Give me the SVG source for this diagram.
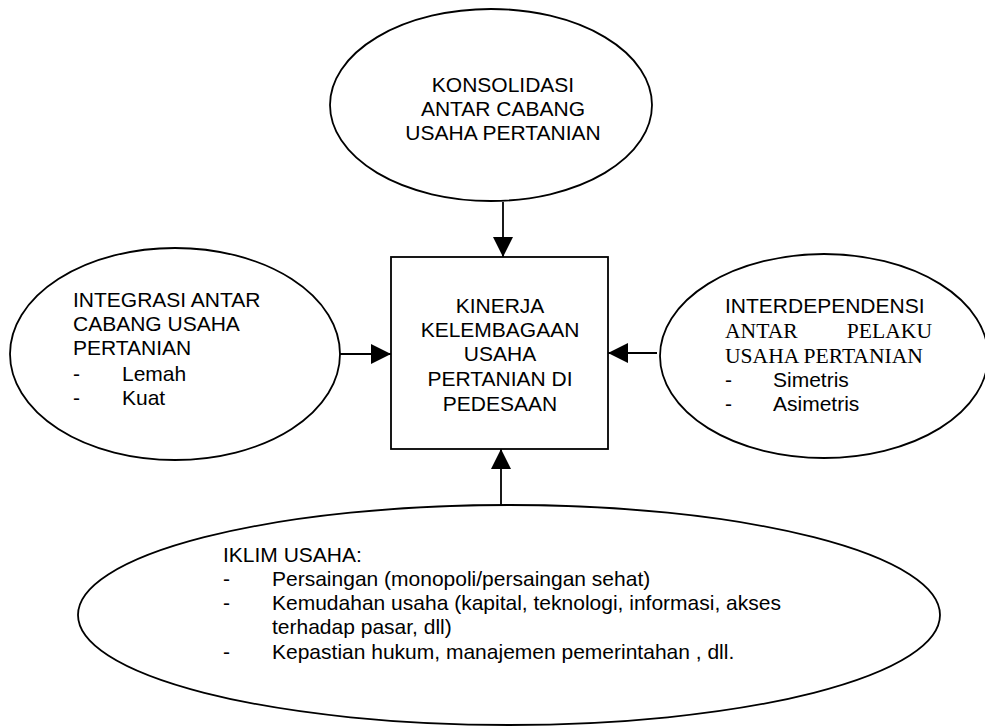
<svg xmlns="http://www.w3.org/2000/svg" width="985" height="727" viewBox="0 0 985 727">
<style>
.shape{fill:#fff;stroke:#000;stroke-width:1.8}
.t{font-family:"Liberation Sans",Arial,sans-serif;font-size:21px;fill:#000}
.s{font-family:"Liberation Serif","Times New Roman",serif;font-size:21.6px;fill:#000}
.c{text-anchor:middle}
.line{stroke:#000;stroke-width:1.8;fill:none}
</style>
<defs>
<marker id="ah" viewBox="0 0 20 20" refX="20" refY="10" markerWidth="20" markerHeight="20" markerUnits="userSpaceOnUse" orient="auto">
<path d="M0,0 L20,10 L0,20 Z" fill="#000"/>
</marker>
</defs>
<rect width="985" height="727" fill="#fff"/>
<g id="connectors">
<line class="line" x1="503" y1="202" x2="503" y2="257" marker-end="url(#ah)"/>
<line class="line" x1="333" y1="354" x2="391" y2="354" marker-end="url(#ah)"/>
<line class="line" x1="657" y1="353" x2="608" y2="353" marker-end="url(#ah)"/>
<line class="line" x1="501" y1="505" x2="501" y2="449" marker-end="url(#ah)"/>
</g>
<g id="node-konsolidasi">
<ellipse class="shape" cx="491" cy="105" rx="161" ry="96"/>
<text class="t c" x="503" y="92">KONSOLIDASI</text>
<text class="t c" x="503" y="116">ANTAR CABANG</text>
<text class="t c" x="503" y="140">USAHA PERTANIAN</text>
</g>
<g id="node-kinerja">
<rect class="shape" x="391" y="257" width="217" height="192"/>
<text class="t c" x="500" y="313">KINERJA</text>
<text class="t c" x="500" y="337">KELEMBAGAAN</text>
<text class="t c" x="500" y="361">USAHA</text>
<text class="t c" x="500" y="386">PERTANIAN DI</text>
<text class="t c" x="500" y="411">PEDESAAN</text>
</g>
<g id="node-integrasi">
<ellipse class="shape" cx="175" cy="354" rx="165" ry="106"/>
<text class="t" x="73" y="307">INTEGRASI ANTAR</text>
<text class="t" x="73" y="331">CABANG USAHA</text>
<text class="t" x="73" y="355">PERTANIAN</text>
<text class="t" x="73" y="381">-</text>
<text class="t" x="122" y="381">Lemah</text>
<text class="t" x="73" y="405">-</text>
<text class="t" x="122" y="405">Kuat</text>
</g>
<g id="node-interdependensi">
<ellipse class="shape" cx="824" cy="356" rx="164" ry="102"/>
<text class="t" x="725" y="313">INTERDEPENDENSI</text>
<text class="s" x="725" y="338">ANTAR</text>
<text class="s" x="932" y="338" text-anchor="end">PELAKU</text>
<text class="s" x="725" y="363">USAHA PERTANIAN</text>
<text class="t" x="725" y="387">-</text>
<text class="t" x="773" y="387">Simetris</text>
<text class="t" x="725" y="411">-</text>
<text class="t" x="773" y="411">Asimetris</text>
</g>
<g id="node-iklim">
<ellipse class="shape" cx="509" cy="615" rx="431" ry="110"/>
<text class="t" x="223" y="562">IKLIM USAHA:</text>
<text class="t" x="223" y="586">-</text>
<text class="t" x="272" y="586">Persaingan (monopoli/persaingan sehat)</text>
<text class="t" x="223" y="610">-</text>
<text class="t" x="272" y="610">Kemudahan usaha (kapital, teknologi, informasi, akses</text>
<text class="t" x="272" y="634">terhadap pasar, dll)</text>
<text class="t" x="223" y="659">-</text>
<text class="t" x="272" y="659">Kepastian hukum, manajemen pemerintahan , dll.</text>
</g>
</svg>
